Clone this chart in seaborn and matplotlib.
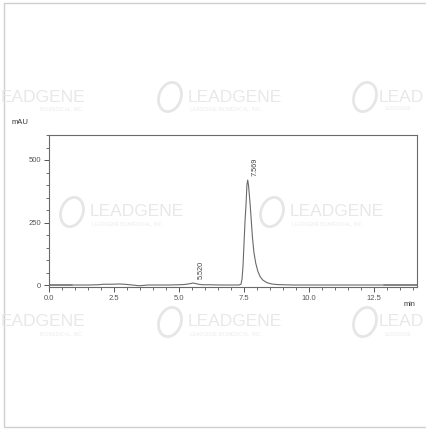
import numpy as np
import pandas as pd
import matplotlib
matplotlib.use("Agg")
import matplotlib.pyplot as plt
import seaborn as sns
from matplotlib.patches import Rectangle, Ellipse
from matplotlib.ticker import MultipleLocator

# Chromatogram trace (time in min, absorbance in mAU)
time_min = [0.0, 0.5, 1.0, 1.5, 1.9, 2.1, 2.4, 2.7, 2.9, 3.1, 3.3, 3.45, 3.6, 3.8,
            4.2, 4.6, 5.0, 5.2, 5.35, 5.45, 5.54, 5.62, 5.75, 5.9, 6.2, 6.6, 7.0,
            7.30, 7.38, 7.42, 7.46, 7.50, 7.54, 7.58, 7.61, 7.64, 7.67, 7.70,
            7.73, 7.77, 7.82, 7.88, 7.95, 8.03, 8.12, 8.22, 8.35, 8.45, 8.57,
            8.75, 9.0, 9.4, 10.0, 11.0, 12.0, 13.0, 14.15]
signal_mau = [0, 0, 0, 0, 1, 3, 3, 4, 3, 1, -1, -3, -2, 0,
              0, 0, 1, 2, 4, 6, 8, 6, 3, 1, 1, 0, 0,
              0, 3, 22, 75, 170, 260, 330, 400, 420, 400, 365,
              327, 270, 193, 130, 87, 55, 33, 20, 11, 7, 4,
              2, 1, 0, 0, 0, 0, 0, 0]

peak_times = [5.520, 7.569]
peak_labels = ["5.520", "7.569"]
peak_heights = [8, 420]

x_ticks = [0.0, 2.5, 5.0, 7.5, 10.0, 12.5]
x_tick_labels = ["0.0", "2.5", "5.0", "7.5", "10.0", "12.5"]
y_ticks = [0, 250, 500]
y_tick_labels = ["0", "250", "500"]

df = pd.DataFrame({"time": time_min, "mAU": signal_mau})

sns.set_style("white")
plt.rcParams["font.family"] = ["Liberation Sans", "DejaVu Sans"]

W, H = 427, 432
fig = plt.figure(figsize=(W / 100, H / 100), dpi=100)
fig.patch.set_facecolor("white")

# outer light frame
fig.patches.append(Rectangle((4.5 / W, 5 / H), (W - 4) / W, (H - 8) / H,
                             transform=fig.transFigure, fill=False,
                             edgecolor="#cfcfcf", linewidth=1.0, zorder=0))

ax = fig.add_axes([49 / W, (H - 287) / H, (417 - 49) / W, 152 / H])
ax.set_facecolor("none")

sns.lineplot(data=df, x="time", y="mAU", ax=ax, color="#6a6a6a",
             linewidth=0.8, estimator=None, sort=False)

# baseline markers at start/end
ax.plot([0.0, 0.9], [0, 0], color="#9a9a9a", linewidth=1.2, zorder=1)
ax.plot([12.9, 14.15], [0, 0], color="#9a9a9a", linewidth=1.2, zorder=1)

for t, lab, h in zip(peak_times, peak_labels, peak_heights):
    ax.annotate(lab, xy=(t, h), xytext=(4, 3), textcoords="offset points",
                rotation=90, ha="left", va="bottom", fontsize=5.3,
                color="#444444")

ax.set_xlim(0, 14.15)
ax.set_ylim(-8, 600)
ax.set_xticks(x_ticks)
ax.set_xticklabels(x_tick_labels)
ax.set_yticks(y_ticks)
ax.set_yticklabels(y_tick_labels)
ax.xaxis.set_minor_locator(MultipleLocator(0.5))
ax.yaxis.set_minor_locator(MultipleLocator(50))
ax.tick_params(which="major", direction="out", length=3.5, width=0.7,
               color="#555555", labelsize=5.5, labelcolor="#555555", pad=2)
ax.tick_params(which="minor", direction="out", length=2, width=0.6,
               color="#555555")
ax.tick_params(axis="x", which="both", bottom=True)
ax.tick_params(axis="y", which="both", left=True)
ax.set_xlabel("")
ax.set_ylabel("")
for s in ax.spines.values():
    s.set_color("#6a6a6a")
    s.set_linewidth(0.8)

fig.text(12 / W, 1 - 123 / H, "mAU", fontsize=5.5, color="#333333",
         ha="left", va="center")
fig.text(409 / W, 1 - 305 / H, "min", fontsize=5.3, color="#333333",
         ha="center", va="center")

# faint watermarks (logo + name), some cut by the image edges
WM = "#e8e8e8"
def watermark(xx, yy):
    fig.patches.append(Ellipse(((xx - 18) / W, 1 - yy / H), 22 / W, 30 / H,
                               angle=-20, transform=fig.transFigure,
                               fill=False, edgecolor="#e6e6e6",
                               linewidth=2.0, zorder=5))
    fig.text(xx / W, 1 - yy / H, "LEADGENE", fontsize=12.5, color=WM,
             ha="left", va="center", zorder=5)
    fig.text((xx + 2) / W, 1 - (yy + 12) / H, "LEADGENE BIOMEDICAL, INC.",
             fontsize=3.6, color="#ececec", ha="left", va="center", zorder=5)

for yy in (97, 322):
    fig.text(85 / W, 1 - yy / H, "EADGENE", fontsize=12.5, color=WM,
             ha="right", va="center", zorder=5)
    fig.text(83 / W, 1 - (yy + 12) / H, "BIOMEDICAL, INC.", fontsize=3.6,
             color="#ececec", ha="right", va="center", zorder=5)
    watermark(188, yy)
    fig.patches.append(Ellipse((365 / W, 1 - yy / H), 22 / W, 30 / H,
                               angle=-20, transform=fig.transFigure,
                               fill=False, edgecolor="#e6e6e6",
                               linewidth=2.0, zorder=5))
    fig.text(424 / W, 1 - yy / H, "LEAD", fontsize=12.5, color=WM,
             ha="right", va="center", zorder=5)
    fig.text(385 / W, 1 - (yy + 12) / H, "LEADGENE", fontsize=3.6,
             color="#ececec", ha="left", va="center", zorder=5)
for xx in (90, 290):
    watermark(xx, 212)

fig.savefig("out.png", dpi=100, facecolor="white")
